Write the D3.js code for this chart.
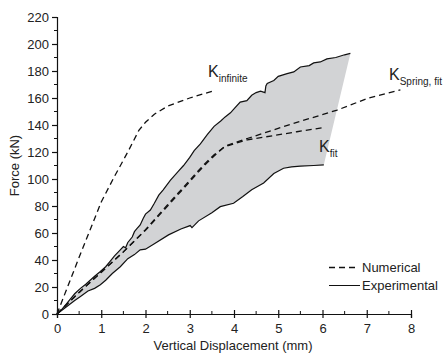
<!DOCTYPE html>
<html>
<head>
<meta charset="utf-8">
<script src="https://cdn.jsdelivr.net/npm/d3@7"></script>
<style>
  body { margin: 0; background: #fff; }
  text { font-family: "Liberation Sans", Arial, sans-serif; fill: #222; }
</style>
</head>
<body>
<script>
// Chart data (x: mm, y: kN)
var expUpper = [[0,0],[0.1,3],[0.2,7],[0.3,11],[0.4,15],[0.53,19],[0.65,22],[0.75,25],[0.85,28],[0.98,31.5],
  [1.1,35],[1.2,39],[1.3,43],[1.43,47.5],[1.5,50],[1.55,49],[1.6,53],[1.7,57],[1.75,61],[1.8,63],[1.88,66],
  [1.95,71],[2.0,74],[2.11,77],[2.2,82],[2.3,88],[2.4,92],[2.56,99],[2.64,102],[2.75,106],[2.86,110],[3.0,116],
  [3.1,121],[3.24,126],[3.4,133],[3.55,139],[3.7,143],[3.8,146],[3.92,149],[4.0,152],[4.14,157],[4.29,158],
  [4.4,162],[4.5,164],[4.6,165],[4.7,164],[4.72,169],[4.75,170.7],[4.9,173],[5.0,176],[5.2,178],[5.35,179.3],
  [5.5,183],[5.7,184],[5.8,186],[5.95,186.7],[6.1,189],[6.3,190],[6.5,192],[6.63,193]];

var expLower = [[0,0],[0.2,5],[0.4,10],[0.53,13],[0.7,17],[0.85,19],[0.98,21.7],[1.1,25],[1.25,30],[1.43,35],
  [1.6,41],[1.75,44],[1.88,47.5],[2.0,48],[2.2,52],[2.52,58.6],[2.8,63],[3.01,65.5],[3.05,64],[3.2,69],
  [3.5,75],[3.69,79.5],[3.99,82],[4.2,87],[4.4,92],[4.67,97],[4.9,104],[5.12,108],[5.3,109],[5.5,109.5],
  [5.8,110],[6.03,110.5]];

var kInfinite = [[0,0],[0.5,42],[1.0,83],[1.3,102],[1.6,120],[1.85,136],[2.0,142],[2.2,148],[2.5,154],
  [3.0,160],[3.5,165]];

var kSpringFit = [[0,0],[0.5,16],[1,31],[1.5,46],[2,62],[2.5,80],[3,98],[3.3,109],[3.55,117],[3.8,124.5],
  [4.3,130],[5.42,142],[6.33,151],[7.04,160],[7.76,166]];

var kFit = [[0,0],[0.5,16],[1,31],[1.5,46],[2,62.5],[2.5,81],[3,99],[3.3,110],[3.55,118],[3.8,124],
  [4.3,129],[5.42,135],[6.0,138]];

var xTicks = [0, 1, 2, 3, 4, 5, 6, 7, 8];
var yTicks = [0, 20, 40, 60, 80, 100, 120, 140, 160, 180, 200, 220];

// Chart Parameters
var svgWidth = 443;
var svgHeight = 353;
var margin = { top: 17, right: 32, bottom: 39, left: 57 };

var svg = d3.select("body").append("svg")
  .attr("width", svgWidth)
  .attr("height", svgHeight);

var g = svg.append("g")
  .attr("transform", `translate(${margin.left}, ${margin.top})`);

var x = d3.scaleLinear().domain([0, 8]).range([0, 354]);
var y = d3.scaleLinear().domain([0, 220]).range([297, 0]);

var line = d3.line().x(d => x(d[0])).y(d => y(d[1]));

// shaded experimental band
var band = expUpper.concat(expLower.slice().reverse());
g.append("path")
  .attr("d", line(band) + "Z")
  .attr("fill", "#d2d3d5")
  .attr("stroke", "none");

// experimental bounds
[expUpper, expLower].forEach(function(s) {
  g.append("path").attr("d", line(s))
    .attr("fill", "none").attr("stroke", "#111").attr("stroke-width", 1.2);
});

// numerical curves
[kInfinite, kSpringFit, kFit].forEach(function(s) {
  g.append("path").attr("d", line(s))
    .attr("fill", "none").attr("stroke", "#111").attr("stroke-width", 1.3)
    .attr("stroke-dasharray", "6,4");
});

// axes
var xAxis = g.append("g").attr("transform", `translate(0, ${y(0)})`)
  .call(d3.axisBottom(x).tickValues(xTicks).tickFormat(d3.format("d")).tickSize(4).tickPadding(6));
xAxis.selectAll(".tick line").attr("y1", -4);
g.append("g").attr("transform", `translate(0, ${y(0)})`)
  .selectAll("line").data(d3.range(0.5, 8, 1)).join("line")
  .attr("x1", d => x(d)).attr("x2", d => x(d)).attr("y1", 0).attr("y2", -3)
  .attr("stroke", "#111");

var yAxis = g.append("g")
  .call(d3.axisLeft(y).tickValues(yTicks).tickSize(5).tickPadding(3));
g.append("g").selectAll("line").data(d3.range(10, 220, 20)).join("line")
  .attr("x1", -3).attr("x2", 0).attr("y1", d => y(d)).attr("y2", d => y(d))
  .attr("stroke", "#111");

g.selectAll(".domain, .tick line").attr("stroke", "#111").attr("stroke-width", 1.2);
g.selectAll(".tick text").style("font-size", "13px").style("font-family", "Liberation Sans, Arial, sans-serif").attr("fill", "#222");

// axis titles
svg.append("text")
  .attr("x", margin.left + x(4) - 1).attr("y", 350)
  .attr("text-anchor", "middle").style("font-size", "13px")
  .text("Vertical Displacement (mm)");
svg.append("text")
  .attr("transform", `translate(19, ${margin.top + y(110)}) rotate(-90)`)
  .attr("text-anchor", "middle").style("font-size", "13px")
  .text("Force (kN)");

// K labels
function kLabel(px, py, sub) {
  var t = svg.append("text").attr("x", px).attr("y", py).style("font-size", "16px");
  t.append("tspan").text("K");
  t.append("tspan").attr("dy", 5).style("font-size", "10px").text(sub);
}
kLabel(208, 77, "infinite");
kLabel(389, 80, "Spring, fit");
kLabel(319, 152, "fit");

// legend
var leg = svg.append("g");
leg.append("line").attr("x1", 329).attr("x2", 358).attr("y1", 267.5).attr("y2", 267.5)
  .attr("stroke", "#111").attr("stroke-width", 1.3).attr("stroke-dasharray", "6,4");
leg.append("line").attr("x1", 329).attr("x2", 360).attr("y1", 285.5).attr("y2", 285.5)
  .attr("stroke", "#111").attr("stroke-width", 1);
leg.append("text").attr("x", 362).attr("y", 272).style("font-size", "13px").text("Numerical");
leg.append("text").attr("x", 362).attr("y", 290).style("font-size", "13px").text("Experimental");
</script>
</body>
</html>
